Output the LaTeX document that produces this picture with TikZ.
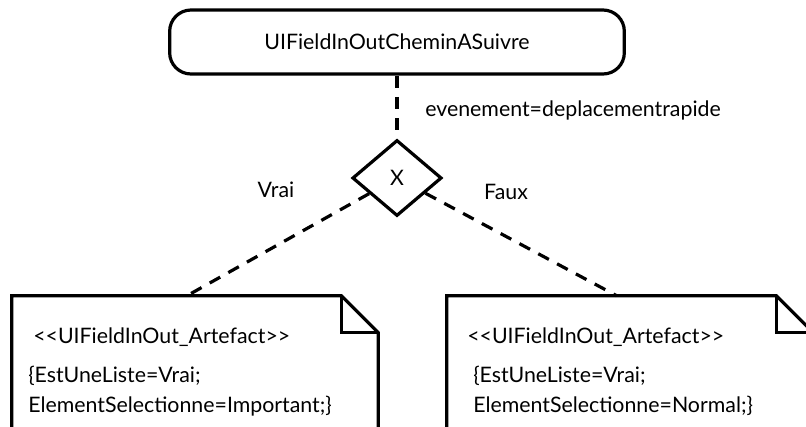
\documentclass[tikz,border=0pt]{standalone}
\usepackage{fontspec}
\setmainfont{Lato}
\usetikzlibrary{shapes.geometric,positioning,calc}

\begin{document}
\begin{tikzpicture}[x=0.75pt,y=-0.75pt,
  txt/.style={font=\fontsize{16}{22}\selectfont, inner sep=0pt},
  state/.style={txt, draw, rounded corners=16pt, line width=2.4pt, minimum width=341pt, minimum height=48pt},
  choice/.style={txt, draw, diamond, line width=2.4pt, minimum width=67pt, minimum height=57pt},
  notebox/.style={minimum width=274.5pt, minimum height=108pt, inner sep=0pt},
  outline/.style={line width=2.4pt},
  link/.style={line width=2.4pt, dash pattern=on 9pt off 7pt}
]
\useasboundingbox (0,0) rectangle (806,426);

% state and choice
\node[state] (ui) at (397,42) {UIFieldInOutCheminASuivre};
\node[choice] (xor) at (397,178) {X};

% notes
\node[notebox] (noteL) at (195,368) {};
\node[notebox] (noteR) at (630,368) {};
\foreach \n in {noteL,noteR}{
  \draw[outline] (\n.south west) -- (\n.north west) -- ($(\n.north east)+(-37,0)$)
    -- ($(\n.north east)+(0,37)$) -- (\n.south east);
  \draw[outline] ($(\n.north east)+(-37,0)$) |- ($(\n.north east)+(0,37)$);
}
\node[txt, anchor=west] (stL) at (33,337) {\textless\kern0pt\textless\kern0pt UIFieldInOut\_Artefact\textgreater\kern0pt\textgreater};
\node[txt, anchor=west, align=left] (bodyL) at (28,391) {\{EstUneListe=Vrai;\\ElementSelectionne=Important;\}};
\node[txt, anchor=west] (stR) at (467,337) {\textless\kern0pt\textless\kern0pt UIFieldInOut\_Artefact\textgreater\kern0pt\textgreater};
\node[txt, anchor=west, align=left] (bodyR) at (473,391) {\{EstUneListe=Vrai;\\ElementSelectionne=Normal;\}};

% links
\draw[link] (ui) -- (xor);
\draw[link] (xor) -- ([xshift=-6pt]noteL.north);
\draw[link] (xor) -- ([xshift=-10pt]noteR.north);

% labels
\node[txt, anchor=west] (evt) at (425,110) {evenement=deplacementrapide};
\node[txt] (vrai) at (276,190) {Vrai};
\node[txt] (faux) at (506,192) {Faux};
\end{tikzpicture}
\end{document}
